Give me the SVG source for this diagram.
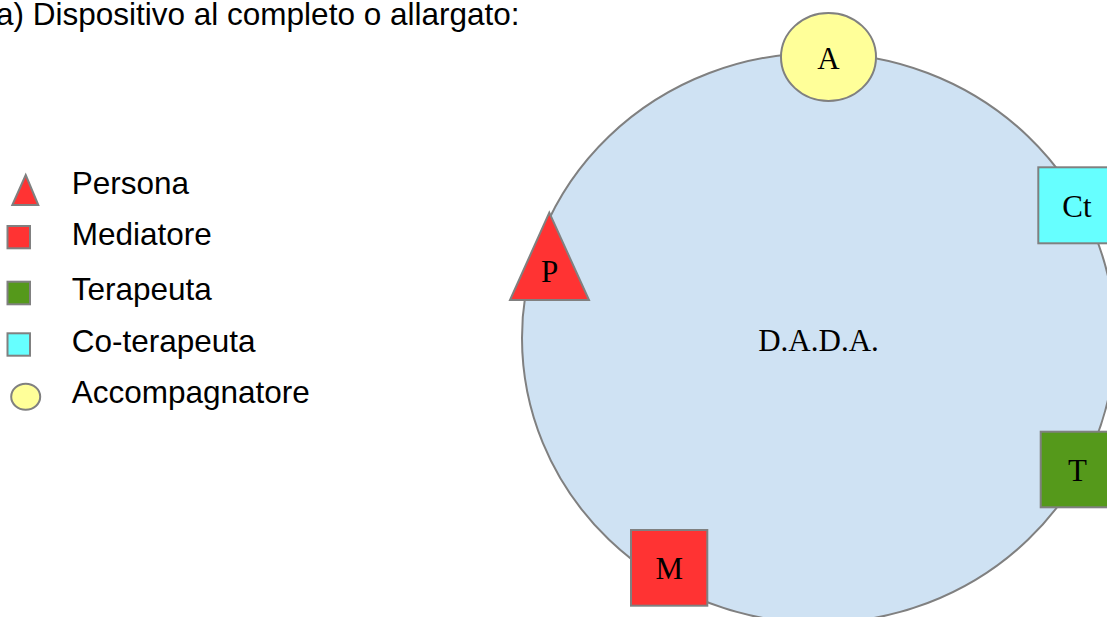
<svg xmlns="http://www.w3.org/2000/svg" width="1107" height="617" viewBox="0 0 1107 617">
  <style>
    .sans { font-family: "Liberation Sans", Arial, sans-serif; fill: #000; font-size: 31.5px; }
    .serif { font-family: "Liberation Serif", "Times New Roman", serif; fill: #000; font-size: 31px; text-anchor: middle; }
    .edge { stroke: #808080; stroke-width: 2; }
    .red { fill: #ff3333; }
    .green { fill: #55991b; }
    .cyan { fill: #66ffff; }
    .yellow { fill: #ffff99; }
    .blue { fill: #cfe2f3; }
  </style>

  <rect width="1107" height="617" fill="#ffffff"/>

  <!-- heading -->
  <text class="sans" x="-4" y="25">a) Dispositivo al completo o allargato:</text>

  <!-- legend -->
  <g id="legend">
    <polygon class="red edge" points="25.7,175 38.3,205 12.3,205"/>
    <text class="sans" x="71.7" y="194.3">Persona</text>
    <rect class="red edge" x="7.5" y="226" width="22.5" height="22.3"/>
    <text class="sans" x="71.7" y="245">Mediatore</text>
    <rect class="green edge" x="7.5" y="281.7" width="22.5" height="22.6"/>
    <text class="sans" x="71.7" y="300">Terapeuta</text>
    <rect class="cyan edge" x="7.5" y="333.3" width="22.5" height="22.4"/>
    <text class="sans" x="71.7" y="352.3">Co-terapeuta</text>
    <ellipse class="yellow edge" cx="25.7" cy="396.7" rx="14.5" ry="13"/>
    <text class="sans" x="71.7" y="403.3">Accompagnatore</text>
  </g>

  <!-- setting: the shared space -->
  <g id="dada">
    <ellipse class="blue edge" cx="818.5" cy="338" rx="296.5" ry="285"/>
    <text class="serif" x="818.5" y="351">D.A.D.A.</text>
  </g>

  <!-- connectors: none in this layout -->
  <g id="connectors"/>

  <g id="node-A">
    <ellipse class="yellow edge" cx="828.5" cy="57" rx="47.5" ry="44"/>
    <text class="serif" x="828.5" y="69.3">A</text>
  </g>

  <g id="node-P">
    <polygon class="red edge" points="549.3,212.7 589,300 510,300"/>
    <text class="serif" x="549.5" y="281.7">P</text>
  </g>

  <g id="node-Ct">
    <rect class="cyan edge" x="1038.3" y="167.3" width="76" height="76"/>
    <text class="serif" x="1077" y="216.7">Ct</text>
  </g>

  <g id="node-T">
    <rect class="green edge" x="1040.7" y="431.7" width="76" height="75.6"/>
    <text class="serif" x="1077.5" y="481">T</text>
  </g>

  <g id="node-M">
    <rect class="red edge" x="631" y="530" width="76.3" height="75.7"/>
    <text class="serif" x="669.3" y="579">M</text>
  </g>
</svg>
